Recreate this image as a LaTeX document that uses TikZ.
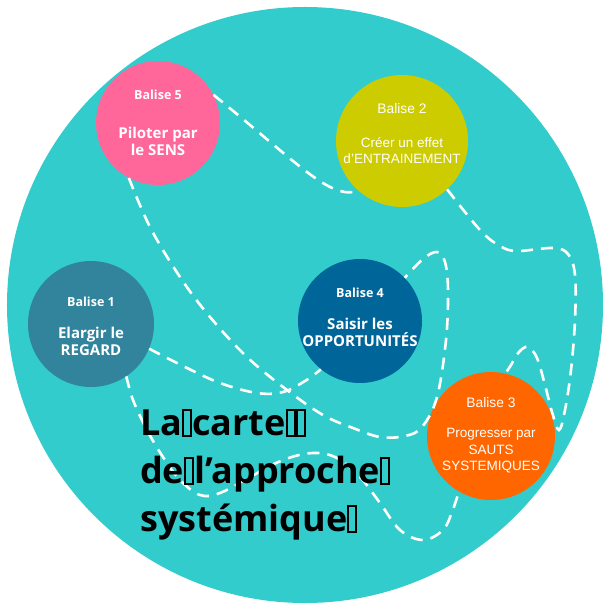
\documentclass[tikz,border=0pt]{standalone}
\usepackage{fontspec}
\newfontfamily\opensans{Open Sans}
\newfontfamily\arialfont{Liberation Sans}

\definecolor{lagoon}{HTML}{33CCCC}
\definecolor{rose}{HTML}{FF6699}
\definecolor{olive}{HTML}{CCCC00}
\definecolor{petrol}{HTML}{31849B}
\definecolor{navy}{HTML}{006699}
\definecolor{tangerine}{HTML}{FF6600}

% missing-glyph box, as printed in the title
\newcommand{\tofu}{{\fboxsep=0pt\fboxrule=2bp\fbox{\rule{0pt}{24bp}\hspace{6bp}}}}

\begin{document}
\begin{tikzpicture}[
    x=1bp, y=-1bp,
    balise/.style={circle, minimum size=#1, inner sep=0pt},
    boldhead/.style={text=white, inner sep=0pt, font=\opensans\bfseries\fontsize{12.5bp}{15bp}\selectfont},
    boldtext/.style={text=white, inner sep=0pt, align=center, font=\opensans\bfseries\fontsize{15bp}{17bp}\selectfont},
    plainhead/.style={text=white, inner sep=0pt, font=\arialfont\fontsize{13.8bp}{16bp}\selectfont},
    plaintext/.style={text=white, inner sep=0pt, align=center, font=\arialfont\fontsize{13.5bp}{16.5bp}\selectfont},
    route/.style={draw=white, line width=2.6bp, dash pattern=on 12bp off 8bp},
    title/.style={inner sep=0pt, align=left, font=\opensans\bfseries\fontsize{36bp}{48bp}\selectfont}
]
\useasboundingbox (0,0) rectangle (603,608);

% Background map
\node[balise=596bp, fill=lagoon] (map) at (305,305) {};

% Balises
\node[balise=124bp, fill=rose] (b5) at (158,123) {};
\node[balise=132bp, fill=olive] (b2) at (402,141) {};
\node[balise=126bp, fill=petrol] (b1) at (91,324) {};
\node[balise=124bp, fill=navy] (b4) at (360,321) {};
\node[balise=128bp, fill=tangerine] (b3) at (491,436) {};

% Routes
\draw[route] (b5.27) .. controls (300,165) and (330,200) .. (b2.229);
\draw[route] plot[smooth, tension=0.6] coordinates {(b2.313) (480,230) (500,246) (517,251) (553,248) (568,254) (575,275) (575,320) (571,370) (565,410) (559,430) (552,412) (545,385) (537,358) (528,347) (519,352) (511,365) (b3.77)};
\draw[route] plot[smooth, tension=0.6] coordinates {(b5.242) (150,227) (180,277) (210,317) (247,357) (287,390) (323,415) (353,428) (380,437) (405,436) (422,427) (437,397) (446,340) (448,290) (445,262) (437,252) (423,259) (b4.44)};
\draw[route] plot[smooth, tension=0.6] coordinates {(b1.337) (183,366) (220,383) (257,393) (283,392) (305,381) (b4.231)};
\draw[route] plot[smooth, tension=0.6] coordinates {(b1.304) (133,400) (147,430) (163,457) (180,480) (200,495) (220,493) (250,477) (283,460) (313,453) (337,458) (360,477) (380,503) (400,530) (423,540) (443,530) (452,512) (b3.240)};

% Labels
\node[boldhead] (b5h) at (158,95) {Balise 5};
\node[boldtext] (b5t) at (158,141) {Piloter par\\le SENS};
\node[plainhead] (b2h) at (402,109) {Balise 2};
\node[plaintext] (b2t) at (402,150.5) {Créer un effet\\d’ENTRAINEMENT};
\node[boldhead] (b1h) at (91,302) {Balise 1};
\node[boldtext] (b1t) at (91,341) {Elargir le\\REGARD};
\node[boldhead] (b4h) at (360,293) {Balise 4};
\node[boldtext] (b4t) at (360,332.5) {Saisir les\\OPPORTUNITÉS};
\node[plainhead] (b3h) at (491,403) {Balise 3};
\node[plaintext] (b3t) at (491,451) {Progresser par\\SAUTS\\SYSTEMIQUES};

% Title
\node[title, anchor=north west] (carte) at (140,409) {La\tofu{}carte\tofu\tofu\\de\tofu{}l’approche\tofu\\systémique\tofu};

\end{tikzpicture}
\end{document}
